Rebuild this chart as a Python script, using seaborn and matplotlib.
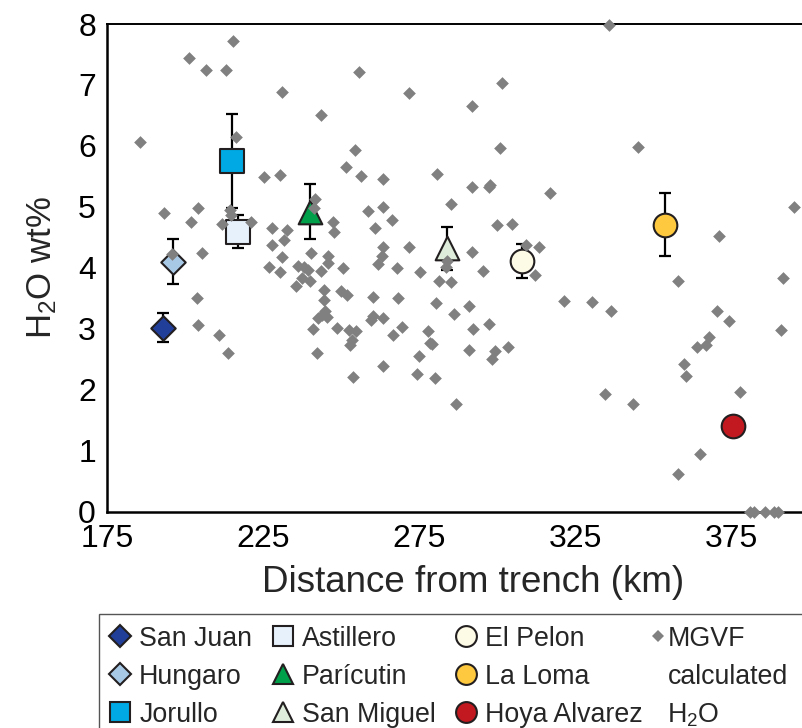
import matplotlib
matplotlib.use("Agg")
import matplotlib.pyplot as plt
import seaborn as sns
import pandas as pd
from matplotlib.lines import Line2D
from matplotlib.patches import Rectangle

# ---------------- data ----------------
mgvf_dist = [185.6, 201.4, 206.6, 213.2, 215.5, 231.0, 243.6, 216.3, 225.3, 230.4,
             193.3, 204.3, 202.0, 214.4, 214.7, 211.9, 221.1, 205.5, 195.9, 227.8,
             232.6, 228.0, 231.6, 231.0, 241.7, 241.2, 247.3, 247.6, 240.4, 245.9,
             245.7, 226.9, 236.3, 238.1, 239.5, 255.8, 254.5, 251.5, 256.3, 263.4,
             258.7, 263.5, 266.2, 260.9, 263.5, 263.0, 262.0, 243.6, 250.5, 267.8,
             230.4, 203.7, 204.1, 210.9, 213.7, 235.6, 237.4, 240.1, 244.7, 244.4,
             244.9, 242.7, 243.8, 245.4, 241.1, 242.2, 248.6, 249.9, 252.0, 252.7,
             254.9, 253.4, 252.9, 253.9, 260.2, 259.5, 260.2, 263.4, 263.4, 266.8,
             268.4, 271.8, 291.9, 301.6, 280.9, 301.1, 292.0, 297.3, 297.9, 317.1,
             285.3, 271.9, 275.3, 300.0, 304.8, 292.1, 309.2, 313.5, 284.1, 283.6,
             295.6, 281.4, 285.4, 312.2, 321.5, 280.3, 291.1, 286.3, 269.7, 277.8,
             278.5, 279.3, 275.1, 274.3, 280.1, 286.9, 292.2, 297.5, 291.0, 299.5,
             298.4, 303.4, 335.9, 345.3, 395.2, 371.3, 330.6, 336.6, 358.1, 391.7,
             370.4, 374.4, 391.1, 368.0, 364.2, 367.0, 359.8, 360.5, 334.6, 343.5,
             378.0, 365.1, 358.1, 381.2, 382.5, 385.9, 388.8, 390.2]
mgvf_h2o = [6.06, 7.44, 7.24, 7.24, 7.72, 6.89, 6.51, 6.15, 5.49, 5.52,
            4.90, 4.98, 4.76, 4.95, 4.87, 4.72, 4.76, 4.25, 4.23, 4.66,
            4.62, 4.37, 4.46, 4.18, 5.13, 4.98, 4.76, 4.59, 4.24, 4.19,
            4.08, 4.01, 4.03, 4.01, 3.96, 7.22, 5.93, 5.65, 5.50, 5.46,
            4.94, 5.00, 4.79, 4.66, 4.35, 4.19, 4.07, 3.95, 4.00, 3.99,
            3.93, 3.51, 3.06, 2.90, 2.60, 3.71, 3.83, 3.78, 3.64, 3.48,
            3.30, 3.18, 3.22, 3.19, 2.99, 2.60, 3.01, 3.62, 3.56, 2.98,
            2.97, 2.82, 2.74, 2.21, 3.52, 3.15, 3.21, 3.18, 2.39, 2.90,
            3.50, 6.87, 6.65, 7.04, 5.54, 5.96, 5.32, 5.33, 5.36, 5.22,
            5.04, 4.34, 3.93, 4.70, 4.72, 4.26, 4.38, 4.34, 4.11, 4.02,
            3.95, 3.79, 3.77, 3.88, 3.46, 3.43, 3.38, 3.24, 3.03, 2.97,
            2.77, 2.75, 2.55, 2.26, 2.19, 1.77, 2.99, 3.08, 2.66, 2.64,
            2.51, 2.70, 7.99, 5.98, 4.99, 4.52, 3.44, 3.30, 3.79, 3.83,
            3.30, 3.13, 2.98, 2.86, 2.70, 2.73, 2.42, 2.23, 1.93, 1.77,
            1.97, 0.95, 0.62, 0.0, 0.0, 0.0, 0.0, 0.0]

sites = ["San Juan", "Hungaro", "Jorullo", "Astillero", "Parícutin",
         "San Miguel", "El Pelon", "La Loma", "Hoya Alvarez"]
site_dist = [193.0, 196.0, 215.2, 217.0, 240.0, 284.0, 307.9, 353.8, 375.8]
site_h2o = [3.01, 4.10, 5.75, 4.59, 4.92, 4.32, 4.12, 4.71, 1.40]
site_err_lo = [0.23, 0.37, 0.77, 0.26, 0.44, 0.35, 0.28, 0.52, 0.0]
site_err_hi = [0.25, 0.37, 0.77, 0.27, 0.46, 0.35, 0.27, 0.52, 0.0]
site_colors = ["#213f99", "#a8c9e6", "#00a9e4", "#e6f1fb", "#00a04b",
               "#deeddb", "#fdfae6", "#fec93e", "#c1191f"]
site_markers = ["D", "D", "s", "s", "^", "^", "o", "o", "o"]

mgvf_labels = ["MGVF", "calculated", "H$_2$O"]

xticks = [175, 225, 275, 325, 375]
yticks = [0, 1, 2, 3, 4, 5, 6, 7, 8]

# ---------------- style ----------------
sns.set_theme(style="white")
plt.rcParams["font.family"] = ["Liberation Sans", "DejaVu Sans"]
plt.rcParams["mathtext.default"] = "regular"

W, H = 802, 728
fig = plt.figure(figsize=(W / 100, H / 100), dpi=100)
ax = fig.add_axes([107 / W, 216.3 / H, (W - 107) / W, (511.7 - 24) / H])

mgvf = pd.DataFrame({"dist": mgvf_dist, "h2o": mgvf_h2o})
means = pd.DataFrame({"site": sites, "dist": site_dist, "h2o": site_h2o,
                      "lo": site_err_lo, "hi": site_err_hi})

size_by_marker = {"D": 155, "s": 300, "^": 290, "o": 290}
edge = "#231f20"

for i, row in means.iterrows():
    if row["hi"] > 0:
        ax.errorbar(row["dist"], row["h2o"], yerr=[[row["lo"]], [row["hi"]]],
                    fmt="none", ecolor="black", elinewidth=1.6, capsize=4.0,
                    capthick=1.6, zorder=2)
    sns.scatterplot(data=means.iloc[[i]], x="dist", y="h2o", ax=ax,
                    marker=site_markers[i], color=site_colors[i],
                    s=size_by_marker[site_markers[i]], edgecolor=edge,
                    linewidth=1.5, zorder=3, legend=False, clip_on=False)

sns.scatterplot(data=mgvf, x="dist", y="h2o", ax=ax, marker="D",
                color="#808080", s=42, linewidth=0, zorder=5,
                legend=False, clip_on=False)

ax.set_xlim(175, 175 + (W - 107) / 3.12)
ax.set_ylim(0, 8)
ax.set_xticks(xticks)
ax.set_yticks(yticks)
ax.set_xticklabels([str(t) for t in xticks])
ax.set_yticklabels([str(t) for t in yticks])
ax.tick_params(axis="both", direction="out", length=5, width=1.5,
               labelsize=23, colors="black")
ax.tick_params(axis="x", pad=3.5)
ax.tick_params(axis="y", pad=3)
for side in ["left", "bottom"]:
    ax.spines[side].set_linewidth(1.8)
    ax.spines[side].set_color("black")
ax.spines["top"].set_linewidth(1.4)
ax.spines["top"].set_color("black")
ax.spines["right"].set_visible(False)

ax.set_xlabel("Distance from trench (km)", fontsize=26.5)
ax.xaxis.set_label_coords(0.527, -0.110)
ax.set_ylabel("H$_2$O wt%", fontsize=25, labelpad=14)

# ---------------- legend ----------------
leg_font = 19.3
leg_sizes = {"D": 11, "s": 15, "^": 15, "o": 15}
handles = []
for i, name in enumerate(sites):
    handles.append(Line2D([], [], linestyle="none", marker=site_markers[i],
                          markerfacecolor=site_colors[i], markeredgecolor=edge,
                          markeredgewidth=1.5,
                          markersize=leg_sizes[site_markers[i]]))

top_anchor = 1 - 615 / H
legA = fig.legend(handles, sites, loc="upper left",
                  bbox_to_anchor=(99 / W, top_anchor),
                  bbox_transform=fig.transFigure, ncol=3, fontsize=leg_font,
                  frameon=False, handlelength=0.8, handletextpad=0.3,
                  columnspacing=0.75, labelspacing=0.45, borderpad=0.4,
                  borderaxespad=0)

mg_handles = [Line2D([], [], linestyle="none", marker="D",
                     markerfacecolor="#808080", markeredgewidth=0,
                     markersize=6),
              Line2D([], [], linestyle="none", marker=None),
              Line2D([], [], linestyle="none", marker=None)]
legB = fig.legend(mg_handles, mgvf_labels, loc="upper left",
                  bbox_to_anchor=(642 / W, top_anchor),
                  bbox_transform=fig.transFigure, ncol=1, fontsize=leg_font,
                  frameon=False, handlelength=0.4, handletextpad=0.15,
                  labelspacing=0.45, borderpad=0.4, borderaxespad=0)

frame = Rectangle((99 / W, -0.05), 1.0, top_anchor + 1 / H + 0.05,
                  transform=fig.transFigure, fill=False,
                  edgecolor="#555555", linewidth=1.0, clip_on=False)
fig.add_artist(frame)

fig.savefig("out.png", dpi=100)
